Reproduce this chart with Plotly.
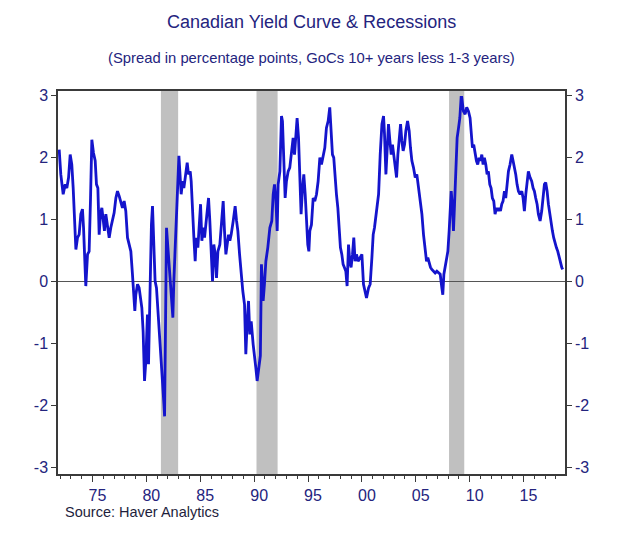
import plotly.graph_objects as go

# Decimal year of each reading
years = [
    1971.91, 1972.06, 1972.28, 1972.47, 1972.62, 1972.78, 1972.93, 1973.08, 1973.21, 1973.36,
    1973.46, 1973.61, 1973.76, 1973.92, 1974.07, 1974.17, 1974.29, 1974.38, 1974.54, 1974.69,
    1974.82, 1974.94, 1975.09, 1975.25, 1975.37, 1975.50, 1975.62, 1975.74, 1975.87, 1975.99,
    1976.11, 1976.24, 1976.39, 1976.55, 1976.70, 1976.86, 1977.01, 1977.17, 1977.32, 1977.48,
    1977.63, 1977.78, 1977.94, 1978.09, 1978.25, 1978.40, 1978.56, 1978.71, 1978.84, 1978.93,
    1979.02, 1979.18, 1979.33, 1979.48, 1979.58, 1979.70, 1979.83, 1979.95, 1980.10, 1980.20,
    1980.35, 1980.47, 1980.57, 1980.69, 1980.81, 1980.94, 1981.06, 1981.19, 1981.32, 1981.44,
    1981.63, 1981.69, 1981.81, 1981.87, 1982.00, 1982.15, 1982.25, 1982.37, 1982.46, 1982.55,
    1982.68, 1982.80, 1982.93, 1983.02, 1983.14, 1983.23, 1983.36, 1983.48, 1983.61, 1983.79,
    1983.91, 1984.07, 1984.16, 1984.29, 1984.41, 1984.53, 1984.63, 1984.78, 1984.90, 1985.03,
    1985.15, 1985.28, 1985.40, 1985.55, 1985.77, 1985.89, 1986.02, 1986.14, 1986.26, 1986.39,
    1986.51, 1986.64, 1986.82, 1986.95, 1987.13, 1987.25, 1987.38, 1987.50, 1987.63, 1987.75,
    1987.87, 1988.06, 1988.24, 1988.37, 1988.49, 1988.65, 1988.80, 1988.95, 1989.11, 1989.23,
    1989.36, 1989.48, 1989.60, 1989.73, 1989.91, 1990.04, 1990.16, 1990.28, 1990.47, 1990.58,
    1990.68, 1990.84, 1990.96, 1991.09, 1991.27, 1991.46, 1991.64, 1991.77, 1991.89, 1992.01,
    1992.14, 1992.23, 1992.39, 1992.54, 1992.63, 1992.76, 1992.88, 1993.00, 1993.16, 1993.31,
    1993.47, 1993.62, 1993.75, 1993.87, 1993.99, 1994.12, 1994.24, 1994.36, 1994.49, 1994.61,
    1994.74, 1994.86, 1994.98, 1995.08, 1995.17, 1995.32, 1995.48, 1995.63, 1995.79, 1995.94,
    1996.10, 1996.25, 1996.41, 1996.56, 1996.71, 1996.87, 1997.02, 1997.15, 1997.27, 1997.39,
    1997.52, 1997.64, 1997.77, 1997.89, 1998.01, 1998.14, 1998.26, 1998.38, 1998.51, 1998.63,
    1998.76, 1998.88, 1999.00, 1999.13, 1999.25, 1999.37, 1999.50, 1999.65, 1999.81, 2000.00,
    2000.15, 2000.31, 2000.43, 2000.62, 2000.77, 2000.93, 2001.05, 2001.17, 2001.30, 2001.42,
    2001.55, 2001.70, 2001.86, 2002.01, 2002.10, 2002.23, 2002.35, 2002.47, 2002.60, 2002.72,
    2002.84, 2002.97, 2003.09, 2003.22, 2003.34, 2003.46, 2003.59, 2003.71, 2003.83, 2003.96,
    2004.08, 2004.24, 2004.39, 2004.51, 2004.64, 2004.79, 2004.95, 2005.10, 2005.26, 2005.41,
    2005.57, 2005.72, 2005.88, 2006.00, 2006.12, 2006.25, 2006.37, 2006.49, 2006.65, 2006.80,
    2006.96, 2007.11, 2007.27, 2007.42, 2007.51, 2007.61, 2007.73, 2007.85, 2007.98, 2008.10,
    2008.23, 2008.29, 2008.41, 2008.50, 2008.60, 2008.72, 2008.84, 2008.97, 2009.09, 2009.21,
    2009.27, 2009.42, 2009.58, 2009.73, 2009.89, 2010.04, 2010.14, 2010.26, 2010.38, 2010.51,
    2010.63, 2010.75, 2010.88, 2011.00, 2011.13, 2011.25, 2011.37, 2011.50, 2011.62, 2011.74,
    2011.87, 2011.99, 2012.11, 2012.24, 2012.36, 2012.49, 2012.61, 2012.73, 2012.86, 2012.98,
    2013.10, 2013.23, 2013.35, 2013.48, 2013.60, 2013.75, 2013.91, 2014.03, 2014.16, 2014.28,
    2014.40, 2014.53, 2014.68, 2014.84, 2014.96, 2015.08, 2015.21, 2015.33, 2015.45, 2015.61,
    2015.76, 2015.89, 2016.01, 2016.13, 2016.26, 2016.38, 2016.54, 2016.69, 2016.81, 2016.94,
    2017.06, 2017.19, 2017.31, 2017.43, 2017.56, 2017.68, 2017.80, 2017.93, 2018.05, 2018.18,
    2018.30, 2018.42, 2018.55, 2018.64,
]

# Spread, percentage points (GoCs 10+ years less 1-3 years)
spread = [
    2.12, 1.72, 1.40, 1.56, 1.50, 1.67, 2.04, 1.88, 1.50, 0.81,
    0.51, 0.70, 0.75, 1.08, 1.16, 0.86, 0.21, -0.08, 0.43, 0.48,
    1.34, 2.28, 2.07, 1.94, 1.56, 1.50, 0.75, 1.08, 1.18, 1.02,
    0.81, 1.08, 0.91, 0.70, 0.86, 0.97, 1.10, 1.34, 1.45, 1.37,
    1.29, 1.18, 1.29, 1.13, 0.70, 0.59, 0.48, 0.11, -0.22, -0.48,
    -0.22, -0.05, -0.11, -0.27, -0.43, -0.81, -1.61, -1.29, -0.54, -1.34,
    0.27, 0.91, 1.21, 0.54, 0.00, -0.11, -0.43, -0.65, -1.13, -1.45,
    -1.99, -2.18, -0.65, 0.86, 0.54, 0.11, 0.00, -0.38, -0.59, 0.00,
    0.59, 1.08, 1.61, 2.02, 1.67, 1.40, 1.61, 1.50, 1.67, 1.91,
    1.72, 1.77, 1.61, 0.97, 0.70, 0.32, 0.70, 0.54, 0.97, 1.24,
    0.65, 0.86, 0.70, 0.97, 1.34, 0.97, 0.43, 0.00, 0.59, 0.43,
    0.05, 0.48, 0.59, 0.86, 1.29, 0.81, 0.43, 0.59, 0.75, 0.65,
    0.75, 0.97, 1.21, 0.97, 0.81, 0.43, 0.11, -0.16, -0.38, -1.18,
    -0.65, -0.32, -0.86, -0.65, -1.02, -1.18, -1.40, -1.61, -1.40, -1.20,
    0.27, -0.32, -0.05, 0.32, 0.54, 0.86, 0.97, 1.40, 1.56, 1.34,
    0.81, 1.56, 1.77, 2.66, 2.58, 2.04, 1.34, 1.61, 1.77, 1.83,
    2.04, 2.31, 2.04, 2.42, 2.63, 2.31, 1.77, 1.08, 1.50, 1.72,
    1.40, 0.97, 0.59, 0.48, 0.81, 0.91, 1.34, 1.29, 1.40, 1.61,
    1.99, 1.88, 2.04, 2.15, 2.47, 2.58, 2.80, 2.42, 2.04, 1.99,
    1.61, 1.40, 1.18, 0.86, 0.54, 0.43, 0.27, 0.22, 0.16, -0.08,
    0.59, 0.32, 0.22, 0.43, 0.70, 0.32, 0.43, 0.32, 0.38, 0.43,
    -0.05, -0.16, -0.27, -0.11, -0.05, 0.38, 0.75, 0.86, 1.08, 1.29,
    1.40, 2.04, 2.53, 2.66, 2.37, 1.72, 2.04, 2.53, 2.26, 2.04,
    2.20, 2.04, 1.83, 1.67, 2.04, 2.31, 2.53, 2.26, 2.10, 2.20,
    2.42, 2.58, 2.42, 2.15, 1.94, 1.83, 1.67, 1.72, 1.50, 1.29,
    1.08, 0.75, 0.54, 0.32, 0.38, 0.27, 0.22, 0.19, 0.16, 0.13,
    0.16, 0.13, 0.11, -0.11, -0.22, 0.11, 0.22, 0.32, 0.48, 0.81,
    1.29, 1.45, 1.18, 0.81, 1.24, 1.94, 2.31, 2.47, 2.63, 2.96,
    2.96, 2.74, 2.69, 2.80, 2.74, 2.63, 2.37, 2.15, 2.20, 2.04,
    1.94, 1.88, 1.99, 1.94, 2.04, 1.88, 1.99, 1.88, 1.72, 1.77,
    1.56, 1.50, 1.34, 1.29, 1.08, 1.18, 1.13, 1.18, 1.13, 1.24,
    1.29, 1.45, 1.34, 1.56, 1.77, 1.88, 2.04, 1.94, 1.83, 1.72,
    1.56, 1.45, 1.40, 1.45, 1.34, 1.13, 1.40, 1.56, 1.77, 1.67,
    1.61, 1.50, 1.45, 1.34, 1.24, 1.08, 0.97, 1.13, 1.40, 1.56,
    1.59, 1.45, 1.24, 1.08, 0.97, 0.81, 0.70, 0.59, 0.54, 0.48,
    0.38, 0.32, 0.22, 0.19,
]

# Canadian recessions (decimal years)
recession_start = [1981.35, 1990.22, 2008.09]
recession_end = [1982.95, 1992.18, 2009.50]

# Axis ticks
x_tick_years = [1975, 1980, 1985, 1990, 1995, 2000, 2005, 2010, 2015]
x_tick_labels = ["75", "80", "85", "90", "95", "00", "05", "10", "15"]
y_ticks = [-3, -2, -1, 0, 1, 2, 3]
y_tick_labels = ["-3", "-2", "-1", "0", "1", "2", "3"]

NAVY = "#24247e"
AXIS = "#3a3a3a"
FONT = "Liberation Sans, Arial, sans-serif"
x_range = [1971.8, 2018.85]
y_range = [-3.11, 3.065]

fig = go.Figure()
fig.add_trace(go.Scatter(
    x=years, y=spread, mode="lines",
    line=dict(color="#1414cc", width=2.8),
    showlegend=False, hoverinfo="x+y",
))
# invisible trace to carry the right-hand axis
fig.add_trace(go.Scatter(
    x=years, y=spread, mode="lines", yaxis="y2",
    line=dict(width=0, color="rgba(0,0,0,0)"),
    showlegend=False, hoverinfo="skip",
))

for s, e in zip(recession_start, recession_end):
    fig.add_shape(type="rect", xref="x", yref="paper", x0=s, x1=e, y0=0, y1=1,
                  fillcolor="#c0c0c0", line=dict(width=0), layer="below")

fig.update_layout(
    width=629, height=535,
    margin=dict(l=50, r=72, t=83, b=69),
    paper_bgcolor="white", plot_bgcolor="white",
    font=dict(family=FONT, color=NAVY, size=16),
    xaxis=dict(
        range=x_range, tickmode="array", tickvals=x_tick_years, ticktext=x_tick_labels,
        ticks="outside", ticklen=6, tickwidth=1, tickcolor=AXIS, ticklabelshift=5,
        minor=dict(ticks="outside", ticklen=3, tickwidth=1, tickcolor=AXIS,
                   tickmode="linear", tick0=1970, dtick=1, showgrid=False),
        showline=True, linecolor=AXIS, linewidth=1.5, mirror=True,
        showgrid=False, zeroline=False,
        tickfont=dict(family=FONT, color=NAVY, size=16),
    ),
    yaxis=dict(
        range=y_range, tickmode="array", tickvals=y_ticks, ticktext=y_tick_labels,
        ticks="outside", ticklen=5, tickwidth=1, tickcolor=AXIS,
        showline=True, linecolor=AXIS, linewidth=1.5, mirror=True,
        showgrid=False, zeroline=True, zerolinecolor="#555555", zerolinewidth=1,
        tickfont=dict(family=FONT, color=NAVY, size=16),
    ),
    yaxis2=dict(
        range=y_range, overlaying="y", side="right",
        tickmode="array", tickvals=y_ticks, ticktext=y_tick_labels,
        ticks="outside", ticklen=5, tickwidth=1, tickcolor=AXIS,
        showline=True, linecolor=AXIS, linewidth=1.5,
        showgrid=False, zeroline=False,
        tickfont=dict(family=FONT, color=NAVY, size=16),
    ),
    annotations=[
        dict(text="Canadian Yield Curve & Recessions", xref="paper", yref="paper",
             x=0.5, y=(474 - 22) / 383, xanchor="center", yanchor="middle",
             showarrow=False, font=dict(family=FONT, size=18, color=NAVY)),
        dict(text="(Spread in percentage points, GoCs 10+ years less 1-3 years)",
             xref="paper", yref="paper", x=0.5, y=(474 - 58) / 383,
             xanchor="center", yanchor="middle", showarrow=False,
             font=dict(family=FONT, size=14.8, color=NAVY)),
        dict(text="Source: Haver Analytics", xref="paper", yref="paper",
             x=(63 - 58) / 507, y=(474 - 512) / 383, xanchor="left", yanchor="middle",
             showarrow=False, font=dict(family=FONT, size=14.5, color="#1e1e3c")),
    ],
)

fig.write_html("out.html")
